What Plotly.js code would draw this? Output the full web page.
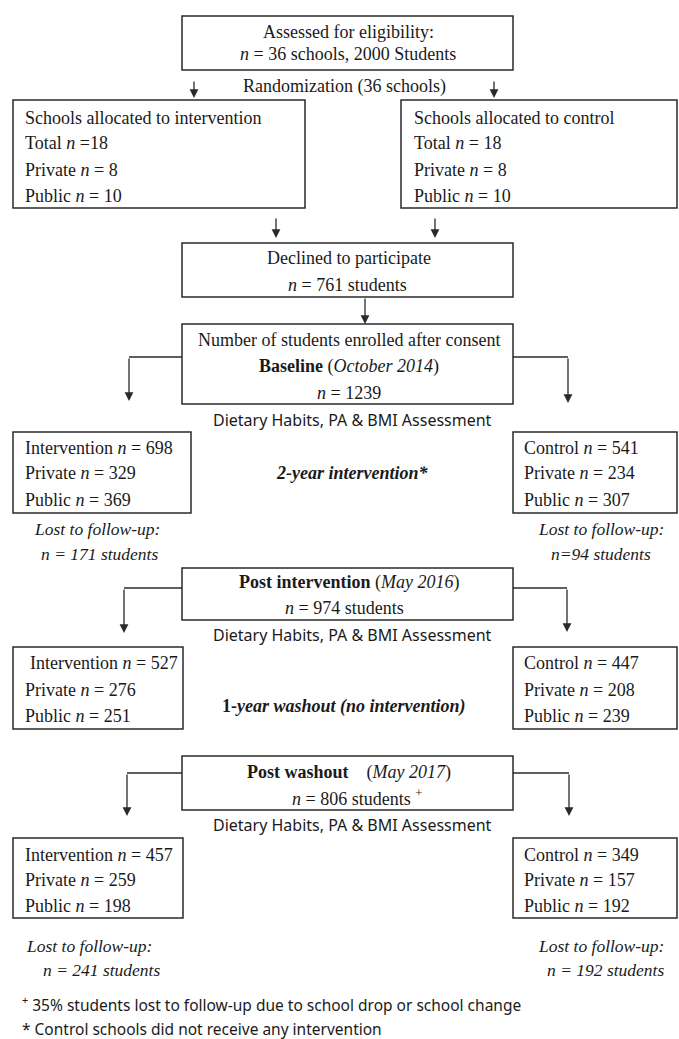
<!DOCTYPE html>
<html>
<head>
<meta charset="utf-8">
<script src="https://cdn.plot.ly/plotly-3.0.1.min.js"></script>
<style>html,body{margin:0;padding:0;background:#fff;}#chart{width:679px;height:1039px;}</style>
</head>
<body>
<div id="chart"></div>
<script>
// ---- data ----
const assessedSchools = 36;
const assessedStudents = 2000;
const groupNames = ['Intervention', 'Control'];
const schoolsTotal = [18, 18];
const schoolsPrivate = [8, 8];
const schoolsPublic = [10, 10];
const declinedStudents = 761;
const enrolledStudents = 1239;
const baselineN = [698, 541];
const baselinePrivate = [329, 234];
const baselinePublic = [369, 307];
const lostAfterIntervention = [171, 94];
const postTotal = 974;
const postN = [527, 447];
const postPrivate = [276, 208];
const postPublic = [251, 239];
const washoutTotal = 806;
const washoutN = [457, 349];
const washoutPrivate = [259, 157];
const washoutPublic = [198, 192];
const lostAfterWashout = [241, 192];
const lostPercent = 35;
const stageDates = ['October 2014', 'May 2016', 'May 2017'];

// ---- drawing ----
const SERIF = 'Liberation Serif, serif';
const SANS = 'Noto Sans, sans-serif';
const TXT = '#1a1a1a';
const LINE = '#2a2a2a';
const ann = [];
const shapes = [];

function txt(x, y, text, anchor, family, size) {
  ann.push({x: x, y: y, xref: 'x', yref: 'y', text: text, showarrow: false,
    xanchor: anchor || 'center', yanchor: 'middle',
    font: {family: family || SERIF, size: size || 18, color: TXT}});
}
function box(x0, x1, y0, y1) {
  shapes.push({type: 'rect', xref: 'x', yref: 'y', x0: x0, x1: x1, y0: y0, y1: y1,
    line: {color: LINE, width: 1.5}, fillcolor: 'rgba(0,0,0,0)'});
}
function hline(x0, x1, y) {
  shapes.push({type: 'line', xref: 'x', yref: 'y', x0: x0, x1: x1, y0: y, y1: y,
    line: {color: LINE, width: 1.4}});
}
function arrow(x, y0, y1) {
  ann.push({x: x, y: y1, ax: x, ay: y0, xref: 'x', yref: 'y', axref: 'x', ayref: 'y',
    text: '', showarrow: true, arrowhead: 2, arrowsize: 1.35, arrowwidth: 1.3,
    arrowcolor: LINE, standoff: 0, startstandoff: 0});
}
const N = '<i>n</i>';
const LOST = 17.5;

// Top box
box(182, 513, 16, 70);
txt(348, 32, 'Assessed for eligibility:');
txt(348, 54, N + ' = ' + assessedSchools + ' schools, ' + assessedStudents + ' Students');
arrow(194, 80, 98);
arrow(494, 80, 98);
txt(344, 86, 'Randomization (' + assessedSchools + ' schools)');

// Allocation boxes
box(13, 305, 100, 208);
txt(23, 118, 'Schools allocated to intervention', 'left');
txt(23, 143, 'Total ' + N + ' =' + schoolsTotal[0], 'left');
txt(23, 170, 'Private ' + N + ' = ' + schoolsPrivate[0], 'left');
txt(23, 196, 'Public ' + N + ' = ' + schoolsPublic[0], 'left');
box(401, 677, 100, 208);
txt(412, 118, 'Schools allocated to control', 'left');
txt(412, 143, 'Total ' + N + ' = ' + schoolsTotal[1], 'left');
txt(412, 170, 'Private ' + N + ' = ' + schoolsPrivate[1], 'left');
txt(412, 196, 'Public ' + N + ' = ' + schoolsPublic[1], 'left');
arrow(276, 217, 238);
arrow(435, 217, 238);

// Declined
box(182, 513, 243, 297);
txt(349, 258, 'Declined to participate');
txt(347, 285, N + ' = ' + declinedStudents + ' students');
arrow(365, 297, 324);

// Baseline
box(182, 513, 324, 404);
txt(349, 340, 'Number of students enrolled after consent');
txt(349, 366, '<b>Baseline</b> (<i>' + stageDates[0] + '</i>)');
txt(349, 393, N + ' = ' + enrolledStudents);
hline(182, 129, 357); arrow(129, 357, 401);
hline(513, 568, 357); arrow(568, 357, 403);
txt(352, 420, 'Dietary Habits, PA &amp; BMI Assessment', 'center', SANS, 16);

box(13, 191, 432, 513);
txt(23, 448, groupNames[0] + ' ' + N + ' = ' + baselineN[0], 'left');
txt(23, 473, 'Private ' + N + ' = ' + baselinePrivate[0], 'left');
txt(23, 500, 'Public ' + N + ' = ' + baselinePublic[0], 'left');
box(513, 677, 432, 513);
txt(522, 448, groupNames[1] + ' ' + N + ' = ' + baselineN[1], 'left');
txt(522, 473, 'Private ' + N + ' = ' + baselinePrivate[1], 'left');
txt(522, 500, 'Public ' + N + ' = ' + baselinePublic[1], 'left');
txt(352, 473, '<b><i>2-year intervention*</i></b>');

txt(97, 529, '<i>Lost to follow-up:</i>', 'center', SERIF, LOST);
txt(99, 554, '<i>n = ' + lostAfterIntervention[0] + ' students</i>', 'center', SERIF, LOST);
txt(601, 529, '<i>Lost to follow-up:</i>', 'center', SERIF, LOST);
txt(601, 554, '<i>n=' + lostAfterIntervention[1] + ' students</i>', 'center', SERIF, LOST);

// Post intervention
box(182, 513, 568, 620);
txt(349, 582, '<b>Post intervention</b> (<i>' + stageDates[1] + '</i>)');
txt(344, 608, N + ' = ' + postTotal + ' students');
hline(182, 124, 588); arrow(124, 588, 633);
hline(513, 567, 588); arrow(567, 588, 632);
txt(352, 635, 'Dietary Habits, PA &amp; BMI Assessment', 'center', SANS, 16);

box(13, 183, 647, 729);
txt(28, 663, groupNames[0] + ' ' + N + ' = ' + postN[0], 'left');
txt(23, 690, 'Private ' + N + ' = ' + postPrivate[0], 'left');
txt(23, 716, 'Public ' + N + ' = ' + postPublic[0], 'left');
box(513, 677, 647, 729);
txt(522, 663, groupNames[1] + ' ' + N + ' = ' + postN[1], 'left');
txt(522, 690, 'Private ' + N + ' = ' + postPrivate[1], 'left');
txt(522, 716, 'Public ' + N + ' = ' + postPublic[1], 'left');
txt(344, 706, '<b>1-<i>year washout (no intervention)</i></b>');

// Post washout
box(182, 513, 756, 810);
txt(349, 772, '<b>Post washout</b>    (<i>' + stageDates[2] + '</i>)');
txt(357, 797, N + ' = ' + washoutTotal + ' students <sup>+</sup>');
hline(182, 127, 773); arrow(127, 773, 816);
hline(513, 569, 773); arrow(569, 773, 816);
txt(352, 825, 'Dietary Habits, PA &amp; BMI Assessment', 'center', SANS, 16);

box(13, 183, 838, 918);
txt(23, 855, groupNames[0] + ' ' + N + ' = ' + washoutN[0], 'left');
txt(23, 880, 'Private ' + N + ' = ' + washoutPrivate[0], 'left');
txt(23, 906, 'Public ' + N + ' = ' + washoutPublic[0], 'left');
box(513, 677, 838, 918);
txt(522, 855, groupNames[1] + ' ' + N + ' = ' + washoutN[1], 'left');
txt(522, 880, 'Private ' + N + ' = ' + washoutPrivate[1], 'left');
txt(522, 906, 'Public ' + N + ' = ' + washoutPublic[1], 'left');

txt(89, 946, '<i>Lost to follow-up:</i>', 'center', SERIF, LOST);
txt(101, 970, '<i>n = ' + lostAfterWashout[0] + ' students</i>', 'center', SERIF, LOST);
txt(601, 946, '<i>Lost to follow-up:</i>', 'center', SERIF, LOST);
txt(605, 970, '<i>n = ' + lostAfterWashout[1] + ' students</i>', 'center', SERIF, LOST);

// Footnotes
txt(20, 1004, '<sup>+</sup> ' + lostPercent + '% students lost to follow-up due to school drop or school change', 'left', SANS, 15.5);
txt(20, 1029, '* Control schools did not receive any intervention', 'left', SANS, 15.5);

const layout = {
  width: 679, height: 1039,
  margin: {l: 0, r: 0, t: 0, b: 0, pad: 0},
  paper_bgcolor: '#ffffff', plot_bgcolor: '#ffffff',
  showlegend: false,
  xaxis: {range: [0, 679], visible: false, fixedrange: true},
  yaxis: {range: [1039, 0], visible: false, fixedrange: true},
  shapes: shapes,
  annotations: ann
};
Plotly.newPlot('chart', [{x: [], y: [], type: 'scatter', mode: 'markers', hoverinfo: 'skip'}], layout, {staticPlot: true, displayModeBar: false});
</script>
</body>
</html>
